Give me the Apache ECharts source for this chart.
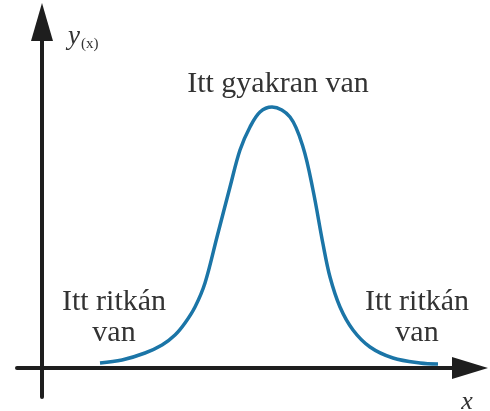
<!DOCTYPE html>
<html>
<head>
    <meta charset="UTF-8">
    <title>Gyakoriság görbe</title>
    <style>
        html, body { margin: 0; padding: 0; background: #fff; }
    </style>
</head>
<body>
<div id="main" style="width:490px; height:411px;"></div>

<script type="text/javascript" src="https://cdn.jsdelivr.net/npm/echarts@6/dist/echarts.min.js"></script>
<script type="text/javascript">

    // görbe pontjai (x, y)
    var curveX = [58, 80, 103, 120, 133, 143, 153, 163, 175, 188, 198, 208, 218, 230, 248, 261, 271, 281, 288, 298, 311, 328, 351, 378, 396];
    var curveY = [5, 8, 15, 23, 33, 45, 61, 85, 131, 181, 218, 241, 256, 261, 251, 221, 178, 124, 91, 61, 38, 21, 10, 5, 4];

    // feliratok
    var labelTexts = ['Itt ritkán\nvan', 'Itt gyakran van', 'Itt ritkán\nvan'];
    var labelX = [72, 236, 375];
    var labelY = [50, 284, 50];

    var serif = '"Liberation Serif", "DejaVu Serif", serif';

    var myChart = echarts.init(document.getElementById('main'));

    var points = curveX.map(function (x, i) { return [x, curveY[i]]; });
    var marks = labelTexts.map(function (t, i) {
        return { coord: [labelX[i], labelY[i]], value: t };
    });

    var axisColor = '#1e1e1e';

    var option = {
        animation: false,
        grid: { left: 17, right: 20, top: 22, bottom: 14, outerBoundsMode: 'none', containLabel: false },
        xAxis: {
            type: 'value',
            min: -25,
            max: 428,
            splitLine: { show: false },
            axisTick: { show: false },
            axisLabel: { show: false },
            axisLine: {
                onZero: true,
                symbol: ['none', 'triangle'],
                symbolSize: [22, 36],
                lineStyle: { color: axisColor, width: 4 }
            },
            name: 'x',
            nameLocation: 'end',
            nameGap: -3,
            nameTextStyle: {
                fontFamily: serif,
                fontStyle: 'italic',
                fontSize: 26,
                color: '#333',
                align: 'center',
                verticalAlign: 'top',
                padding: [21, 0, 0, 0]
            }
        },
        yAxis: {
            type: 'value',
            min: -29,
            max: 346,
            splitLine: { show: false },
            axisTick: { show: false },
            axisLabel: { show: false },
            axisLine: {
                onZero: true,
                symbol: ['none', 'triangle'],
                symbolSize: [22, 38],
                lineStyle: { color: axisColor, width: 4 }
            },
            name: '{i|y}{s|(x)}',
            nameLocation: 'end',
            nameGap: -15,
            nameTextStyle: {
                align: 'left',
                verticalAlign: 'middle',
                padding: [0, 0, 0, 26],
                rich: {
                    i: { fontFamily: serif, fontStyle: 'italic', fontSize: 27, color: '#333' },
                    s: { fontFamily: serif, fontSize: 15, color: '#333', padding: [14, 0, 0, 1] }
                }
            }
        },
        series: [{
            type: 'line',
            data: points,
            smooth: 0.35,
            showSymbol: false,
            lineStyle: { color: '#1b75a7', width: 3.5 },
            markPoint: {
                symbol: 'circle',
                symbolSize: 0,
                data: marks,
                label: {
                    show: true,
                    position: 'inside',
                    formatter: function (p) { return p.value; },
                    fontFamily: serif,
                    fontSize: 30,
                    lineHeight: 31,
                    color: '#333',
                    align: 'center',
                    verticalAlign: 'middle'
                }
            }
        }]
    };

    myChart.setOption(option);

</script>
</body>
</html>
